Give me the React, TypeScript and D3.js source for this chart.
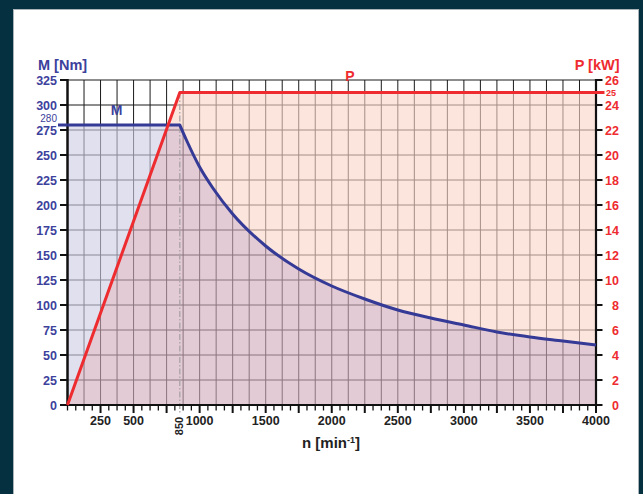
import React from "react";
import * as d3 from "d3";

// ---- data ----
const speedM = [0, 850, 900, 1000, 1100, 1250, 1500, 1750, 2000, 2250, 2500, 2750, 3000, 3250, 3500, 3750, 4000];
const torque = [280, 280, 265, 238, 217, 191, 159, 136, 119, 106, 95, 87, 80, 73, 68, 64, 60];
const speedP = [0, 850, 4000];
const power = [0, 25, 25];
const xTickLabels = [250, 500, 1000, 1500, 2000, 2500, 3000, 3500, 4000];
const mTicks = [0, 25, 50, 75, 100, 125, 150, 175, 200, 225, 250, 275, 300, 325];
const pTicks = [0, 2, 4, 6, 8, 10, 12, 14, 16, 18, 20, 22, 24, 26];
const cornerSpeed = 850;
const maxTorque = 280;
const ratedPower = 25;

const W = 643;
const H = 494;
const FONT = "'Liberation Sans', Arial, Helvetica, sans-serif";
const BLUE = "#343a96";
const BLUE_TXT = "#3c419c";
const RED = "#ee2b2f";
const DARK = "#222";

export default function App() {
  const x = d3.scaleLinear().domain([0, 4000]).range([67.5, 596]);
  const yM = d3.scaleLinear().domain([0, 325]).range([405, 80]);
  const yP = d3.scaleLinear().domain([0, 26]).range([405, 80]);

  const mPts: [number, number][] = speedM.map((n, i) => [x(n), yM(torque[i])]);
  const flatPts = mPts.filter((_, i) => speedM[i] <= cornerSpeed);
  const curvePts = mPts.filter((_, i) => speedM[i] >= cornerSpeed);
  const curveStr = d3.line().curve(d3.curveMonotoneX)(curvePts) as string;
  const mLine =
    `M${flatPts[0][0]},${flatPts[0][1]}` +
    flatPts.slice(1).map((p) => `L${p[0]},${p[1]}`).join("") +
    curveStr.replace(/^M/, "L");
  const mArea = mLine + `L${x(4000)},${yM(0)}L${x(0)},${yM(0)}Z`;

  const pPts: [number, number][] = speedP.map((n, i) => [x(n), yP(power[i])]);
  const pLine = d3.line()(pPts) as string;
  const pArea = d3
    .area<[number, number]>()
    .x((d) => d[0])
    .y0(yP(0))
    .y1((d) => d[1])(pPts) as string;

  // grid
  const vGrid = d3.range(125, 4000, 125);
  const hGrid = d3.range(25, 326, 25);
  const minorTicks = d3.range(0, 4000.1, 62.5);

  return (
    <div style={{ position: "fixed", left: 0, top: 0 }}>
      <svg width={W} height={H} style={{ display: "block" }}>
        <defs>
          <clipPath id="pclip">
            <path d={pArea} />
          </clipPath>
        </defs>
        <rect x={0} y={0} width={W} height={H} fill="#05303f" />
        <rect x={13.5} y={9.5} width={625} height={490} fill="#fff" stroke="#aab4b8" strokeWidth={1} />

        {/* grid */}
        <g stroke="#1a1a1a" strokeWidth={1}>
          {vGrid.map((n) => (
            <line key={"v" + n} x1={x(n)} x2={x(n)} y1={yM(0)} y2={yM(325)} />
          ))}
          {hGrid.map((v) => (
            <line key={"h" + v} x1={x(0)} x2={x(4000)} y1={yM(v)} y2={yM(v)} />
          ))}
        </g>

        {/* fills */}
        <g opacity={0.616}>
          <path d={pArea} fill="rgb(250,214,200)" />
          <path d={mArea} fill="rgb(205,205,229)" />
          <path d={mArea} fill="rgb(209,172,187)" clipPath="url(#pclip)" />
        </g>

        {/* 850 dash-dot */}
        <line
          x1={x(cornerSpeed)}
          x2={x(cornerSpeed)}
          y1={yP(ratedPower)}
          y2={413}
          stroke="#aaa2a8"
          strokeWidth={1.3}
          strokeDasharray="6,2,1.5,2"
        />

        {/* axes */}
        <g stroke="#111" fill="none">
          <line x1={x(0)} x2={x(0)} y1={yM(0) + 1} y2={yM(325) - 1} strokeWidth={2.5} />
          <line x1={x(4000)} x2={x(4000)} y1={yM(0) + 1} y2={yM(325) - 1} strokeWidth={2.2} />
          <line x1={x(0) - 4} x2={x(4000) + 1} y1={yM(0)} y2={yM(0)} strokeWidth={2.2} />
          {mTicks.map((v) => (
            <line key={"mt" + v} x1={60} x2={x(0)} y1={yM(v)} y2={yM(v)} strokeWidth={2} />
          ))}
          {pTicks.map((v) => (
            <line key={"pt" + v} x1={x(4000)} x2={602.5} y1={yP(v)} y2={yP(v)} strokeWidth={2} />
          ))}
          {minorTicks.map((n) => {
            const major = n % 250 === 0 && n > 0;
            return (
              <line
                key={"xt" + n}
                x1={x(n)}
                x2={x(n)}
                y1={yM(0)}
                y2={yM(0) + (major ? 8 : 5.5)}
                strokeWidth={major ? 2 : 1.3}
              />
            );
          })}
        </g>

        {/* series lines */}
        <line x1={58} x2={x(0)} y1={yM(maxTorque)} y2={yM(maxTorque)} stroke={BLUE} strokeWidth={3} />
        <path d={mLine} fill="none" stroke={BLUE} strokeWidth={3} strokeLinejoin="round" />
        <path d={pLine} fill="none" stroke={RED} strokeWidth={3} strokeLinejoin="round" />
        <line x1={x(4000)} x2={604.5} y1={yP(ratedPower)} y2={yP(ratedPower)} stroke={RED} strokeWidth={3} />

        {/* left tick labels */}
        <g fontFamily={FONT} fontWeight="bold" fontSize={12.5} fill={BLUE_TXT} textAnchor="end">
          {mTicks.map((v) => (
            <text key={"ml" + v} x={57} y={yM(v)} dy="0.36em">
              {v}
            </text>
          ))}
        </g>
        <text x={57} y={121.5} fontFamily={FONT} fontSize={10} fill={BLUE_TXT} textAnchor="end">
          {maxTorque}
        </text>

        {/* right tick labels */}
        <g fontFamily={FONT} fontWeight="bold" fontSize={12.5} fill={RED} textAnchor="end">
          {pTicks.map((v) => (
            <text key={"pl" + v} x={619} y={yP(v)} dy="0.36em">
              {v}
            </text>
          ))}
        </g>
        <text x={606} y={yP(ratedPower)} dy="0.36em" fontFamily={FONT} fontWeight="bold" fontSize={9} fill={RED}>
          {ratedPower}
        </text>

        {/* x tick labels */}
        <g fontFamily={FONT} fontWeight="bold" fontSize={12.5} fill={DARK} textAnchor="middle">
          {xTickLabels.map((n) => (
            <text key={"xl" + n} x={x(n)} y={425}>
              {n}
            </text>
          ))}
        </g>
        <text
          transform={`translate(${x(cornerSpeed) + 3.5},426) rotate(-90)`}
          fontFamily={FONT}
          fontWeight="bold"
          fontSize={11}
          fill={DARK}
          textAnchor="middle"
        >
          {cornerSpeed}
        </text>

        {/* titles */}
        <text x={38} y={69.5} fontFamily={FONT} fontWeight="bold" fontSize={14.5} fill={BLUE_TXT}>
          M [Nm]
        </text>
        <text x={619.5} y={69.5} fontFamily={FONT} fontWeight="bold" fontSize={14.5} fill={RED} textAnchor="end">
          P [kW]
        </text>
        <text x={350} y={81} fontFamily={FONT} fontWeight="bold" fontSize={14} fill={RED} textAnchor="middle">
          P
        </text>
        <text x={116.5} y={115} fontFamily={FONT} fontWeight="bold" fontSize={14} fill={BLUE_TXT} textAnchor="middle">
          M
        </text>
        <text x={302} y={447.5} fontFamily={FONT} fontWeight="bold" fontSize={15} fill={DARK}>
          n [min
          <tspan fontSize={9} dy={-5}>
            -1
          </tspan>
          <tspan dy={5}>]</tspan>
        </text>
      </svg>
    </div>
  );
}
